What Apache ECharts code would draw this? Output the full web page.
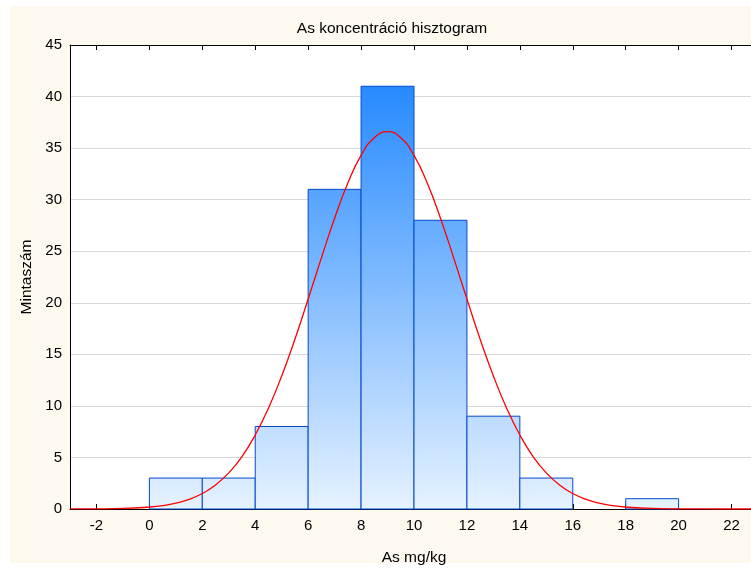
<!DOCTYPE html>
<html>
<head>
<meta charset="utf-8">
<script src="https://cdn.jsdelivr.net/npm/echarts@6/dist/echarts.min.js"></script>
<style>
html,body{margin:0;padding:0;background:#ffffff;}
#chart{width:751px;height:568px;}
</style>
</head>
<body>
<div id="chart"></div>
<script>
// Histogram bins (As mg/kg) and counts
const binStart = [0, 2, 4, 6, 8, 10, 12, 14, 16, 18];
const binEnd   = [2, 4, 6, 8, 10, 12, 14, 16, 18, 20];
const counts   = [3, 3, 8, 31, 41, 28, 9, 3, 0, 1];

// Fitted normal curve
const curveX = [-3, -2, -1, 0, 0.5, 1, 1.5, 2, 2.5, 3, 3.5, 4, 4.5, 5, 5.5, 6, 6.5, 7, 7.5, 8, 8.5, 9,
                9.5, 10, 10.5, 11, 11.5, 12, 12.5, 13, 13.5, 14, 14.5, 15, 15.5, 16, 16.5, 17, 17.5, 18, 19, 20, 21, 22, 23];
const curveY = [0.003, 0.014, 0.054, 0.19, 0.33, 0.57, 0.94, 1.50, 2.33, 3.50, 5.09, 7.18, 9.78, 12.90, 16.47, 20.36, 24.35, 28.20, 31.61, 34.29, 36.01, 36.6,
                36.01, 34.29, 31.61, 28.20, 24.35, 20.36, 16.47, 12.90, 9.78, 7.18, 5.09, 3.50, 2.33, 1.50, 0.94, 0.57, 0.33, 0.19, 0.054, 0.014, 0.003, 0.0005, 0];

// Tick labels
const xTicks = [-2, 0, 2, 4, 6, 8, 10, 12, 14, 16, 18, 20, 22];

const chart = echarts.init(document.getElementById('chart'), null, {renderer: 'canvas'});
const FONT = 'Liberation Sans, Arial, sans-serif';

const barData = binStart.map((s, i) => [s, binEnd[i], counts[i]]);
const lineData = curveX.map((x, i) => [x, curveY[i]]);

const option = {
  animation: false,
  backgroundColor: '#ffffff',
  graphic: [{
    type: 'rect', z: -10, silent: true,
    shape: {x: 10, y: 6, width: 741, height: 557},
    style: {fill: '#fdf9ef'}
  }],
  title: {
    text: 'As koncentráció hisztogram',
    left: 387, top: 16, textAlign: 'center',
    textStyle: {fontFamily: FONT, fontSize: 15.5, fontWeight: 'normal', color: '#000'}
  },
  grid: {left: 70, top: 45, bottom: 59, right: -7, show: true, backgroundColor: '#ffffff', borderWidth: 0,
         containLabel: false, outerBoundsMode: 'none'},
  xAxis: [{
    type: 'value', min: -3, max: 23, position: 'bottom',
    name: 'As mg/kg', nameLocation: 'middle', nameGap: 41,
    nameTextStyle: {fontFamily: FONT, fontSize: 15.5, color: '#000'},
    axisLine: {show: true, onZero: false, lineStyle: {color: '#000', width: 1}},
    axisTick: {show: true, inside: true, length: 5, customValues: xTicks, lineStyle: {color: '#000'}},
    axisLabel: {customValues: xTicks, fontFamily: FONT, fontSize: 15, color: '#000', margin: 9},
    splitLine: {show: false}
  }, {
    type: 'value', min: -3, max: 23, position: 'top',
    axisLine: {show: true, onZero: false, lineStyle: {color: '#000', width: 1}},
    axisTick: {show: true, inside: true, length: 5, customValues: xTicks, lineStyle: {color: '#000'}},
    axisLabel: {show: false},
    splitLine: {show: false}
  }],
  yAxis: [{
    type: 'value', min: 0, max: 45, interval: 5,
    name: 'Mintaszám', nameLocation: 'middle', nameGap: 32,
    nameTextStyle: {fontFamily: FONT, fontSize: 15.5, color: '#000'},
    axisLine: {show: true, onZero: false, lineStyle: {color: '#000', width: 1}},
    axisTick: {show: false},
    axisLabel: {fontFamily: FONT, fontSize: 15, color: '#000', margin: 8},
    splitLine: {show: true, lineStyle: {color: '#d9d9d9', width: 1}}
  }],
  series: [{
    type: 'custom',
    xAxisIndex: 0, yAxisIndex: 0,
    data: barData,
    encode: {x: [0, 1], y: 2},
    renderItem: function (params, api) {
      const v = api.value(2);
      if (!v) return null;
      const p0 = api.coord([api.value(0), v]);
      const p1 = api.coord([api.value(1), 0]);
      const yTop = api.coord([0, 45])[1];
      const yBot = api.coord([0, 0])[1];
      return {
        type: 'rect',
        shape: {x: p0[0], y: p0[1], width: p1[0] - p0[0], height: p1[1] - p0[1]},
        style: {
          fill: new echarts.graphic.LinearGradient(0, yTop, 0, yBot, [
            {offset: 0, color: '#1480ff'},
            {offset: 1, color: '#e6f2ff'}
          ], true),
          stroke: '#0548cc',
          lineWidth: 1
        }
      };
    },
    z: 2
  }, {
    type: 'line',
    xAxisIndex: 0, yAxisIndex: 0,
    data: lineData,
    smooth: true,
    symbol: 'none',
    lineStyle: {color: '#ff0000', width: 1.3},
    z: 3
  }]
};
chart.setOption(option);
</script>
</body>
</html>
